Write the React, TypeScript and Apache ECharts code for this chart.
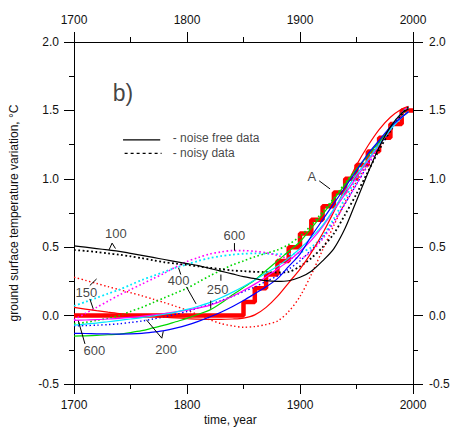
import React, { useEffect, useRef } from "react";
import * as echarts from "echarts";

// ---- data ----
const years = [
  1700, 1710, 1720, 1730, 1740, 1750, 1760, 1770, 1780, 1790, 1800, 1810, 1820, 1830, 1840, 1850,
  1860, 1870, 1880, 1890, 1900, 1910, 1920, 1930, 1940, 1950, 1960, 1970, 1980, 1990, 1996,
];

// noise free (solid)
const solid100 = [
  0.51, 0.5, 0.49, 0.48, 0.47, 0.455, 0.44, 0.425, 0.41, 0.395, 0.38, 0.365, 0.345, 0.325, 0.305, 0.285,
  0.27, 0.255, 0.25, 0.255, 0.28, 0.325, 0.4, 0.49, 0.64, 0.84, 1.04, 1.23, 1.38, 1.48, 1.51,
];
const solid150 = [
  0.06, 0.048, 0.036, 0.025, 0.015, 0.007, 0.0, -0.006, -0.012, -0.017, -0.022, -0.026, -0.028, -0.028, -0.025, -0.018,
  0.005, 0.06, 0.14, 0.24, 0.34, 0.46, 0.6, 0.76, 0.93, 1.1, 1.24, 1.36, 1.45, 1.51, 1.53,
];
const solid200 = [
  -0.13, -0.131, -0.133, -0.134, -0.135, -0.134, -0.13, -0.121, -0.11, -0.092, -0.07, -0.042, -0.01, 0.025, 0.065, 0.11,
  0.16, 0.21, 0.27, 0.36, 0.45, 0.58, 0.7, 0.82, 0.94, 1.06, 1.18, 1.28, 1.38, 1.45, 1.49,
];
const solid250 = [
  -0.15, -0.148, -0.145, -0.14, -0.135, -0.124, -0.11, -0.09, -0.07, -0.045, -0.02, 0.01, 0.04, 0.09, 0.15, 0.205,
  0.26, 0.33, 0.4, 0.47, 0.54, 0.64, 0.74, 0.85, 0.96, 1.07, 1.17, 1.27, 1.37, 1.45, 1.49,
];
const solid400 = [
  -0.07, -0.062, -0.055, -0.045, -0.035, -0.025, -0.015, -0.003, 0.01, 0.026, 0.045, 0.068, 0.095, 0.13, 0.17, 0.213,
  0.26, 0.31, 0.36, 0.42, 0.49, 0.57, 0.66, 0.78, 0.91, 1.03, 1.14, 1.25, 1.36, 1.45, 1.49,
];
const solid600 = [
  -0.035, -0.032, -0.03, -0.025, -0.02, -0.013, -0.005, 0.005, 0.015, 0.027, 0.04, 0.056, 0.075, 0.105, 0.14, 0.183,
  0.23, 0.283, 0.34, 0.4, 0.47, 0.55, 0.65, 0.77, 0.89, 1.01, 1.13, 1.25, 1.36, 1.45, 1.49,
];

// noisy (dotted)
const dotted100 = [
  0.48, 0.473, 0.465, 0.455, 0.445, 0.433, 0.42, 0.405, 0.39, 0.38, 0.37, 0.36, 0.35, 0.34, 0.33, 0.325,
  0.32, 0.318, 0.315, 0.32, 0.36, 0.42, 0.5, 0.6, 0.74, 0.89, 1.05, 1.21, 1.35, 1.47, 1.53,
];
const dotted150 = [
  0.28, 0.258, 0.235, 0.212, 0.19, 0.168, 0.145, 0.12, 0.095, 0.068, 0.04, 0.005, -0.03, -0.058, -0.075, -0.085,
  -0.08, -0.065, -0.04, 0.03, 0.14, 0.3, 0.48, 0.66, 0.83, 0.98, 1.12, 1.26, 1.37, 1.47, 1.52,
];
const dotted200 = [
  -0.075, -0.073, -0.07, -0.066, -0.06, -0.05, -0.04, -0.025, -0.01, 0.01, 0.03, 0.055, 0.08, 0.11, 0.14, 0.175,
  0.21, 0.25, 0.29, 0.34, 0.4, 0.48, 0.57, 0.69, 0.82, 0.96, 1.1, 1.23, 1.36, 1.47, 1.52,
];
const dotted250 = [
  -0.06, -0.05, -0.035, -0.02, 0.0, 0.03, 0.06, 0.095, 0.13, 0.165, 0.2, 0.245, 0.29, 0.33, 0.37, 0.4,
  0.43, 0.455, 0.48, 0.52, 0.58, 0.66, 0.76, 0.86, 0.97, 1.07, 1.17, 1.27, 1.37, 1.47, 1.52,
];
const dotted400 = [
  0.07, 0.1, 0.13, 0.16, 0.19, 0.225, 0.26, 0.29, 0.32, 0.35, 0.375, 0.4, 0.42, 0.435, 0.445, 0.452,
  0.455, 0.453, 0.45, 0.45, 0.46, 0.5, 0.58, 0.71, 0.86, 1.0, 1.13, 1.26, 1.38, 1.48, 1.53,
];
const dotted600 = [
  -0.03, 0.015, 0.06, 0.105, 0.15, 0.19, 0.23, 0.27, 0.31, 0.355, 0.395, 0.425, 0.45, 0.465, 0.475, 0.475,
  0.47, 0.46, 0.44, 0.42, 0.42, 0.47, 0.56, 0.68, 0.82, 0.96, 1.1, 1.24, 1.37, 1.48, 1.53,
];

// true history (step function "A")
const stepYears = [1700, 1850, 1860, 1870, 1880, 1890, 1900, 1910, 1920, 1930, 1940, 1950, 1960, 1970, 1980, 1990, 2000];
const stepValues = [0, 0.1, 0.2, 0.3, 0.4, 0.5, 0.6, 0.7, 0.8, 0.9, 1.0, 1.1, 1.2, 1.3, 1.4, 1.5, 1.5];

// annotation labels
const labelTexts = ["100", "150", "600", "200", "400", "250", "600", "A"];
const labelYears = [1737, 1711, 1718, 1781.5, 1792.5, 1827, 1842, 1910.5];
const labelValues = [0.6, 0.17, -0.255, -0.25, 0.256, 0.19, 0.585, 1.02];

// leader lines [year1, value1, year2, value2]
const leaderLines = [
  [1731, 0.48, 1733.7, 0.53],
  [1733.7, 0.53, 1736.7, 0.49],
  [1714, 0.22, 1720, 0.268],
  [1714, 0.122, 1717, 0.05],
  [1709.7, -0.207, 1703.8, -0.037],
  [1777.7, -0.165, 1764, -0.03],
  [1777.7, -0.165, 1779, -0.115],
  [1794.5, 0.3, 1792.5, 0.35],
  [1799.5, 0.21, 1808, 0.086],
  [1830, 0.255, 1830, 0.3],
  [1821, 0.11, 1821, 0.05],
  [1842, 0.53, 1842, 0.475],
  [1917, 0.985, 1926.6, 0.926],
];

const legendTexts = ["- noise free data", "- noisy data"];

const FONT = "'Liberation Sans', Arial, sans-serif";
const TEXT = "#111111";

const colors = {
  c100: "#000000",
  c150: "#ff0000",
  c200: "#0000ff",
  c250: "#00d800",
  c400: "#00e8ff",
  c600: "#ff00ff",
};

function toData(vals: number[]) {
  return years.map((y, i) => [y, vals[i]]);
}

function solidSeries(vals: number[], color: string) {
  return {
    type: "line",
    data: toData(vals),
    smooth: 0.3,
    symbol: "none",
    silent: true,
    lineStyle: { color, width: 1.2, type: "solid" },
    z: 3,
  };
}

function dottedSeries(vals: number[], color: string, w = 1.5) {
  return {
    type: "line",
    data: toData(vals),
    smooth: 0.3,
    symbol: "none",
    silent: true,
    lineStyle: { color, width: w, type: [w, 2.5] },
    z: 3,
  };
}

function axisCommon() {
  return {
    axisLine: { show: true, onZero: false, lineStyle: { color: "#000", width: 1 } },
    axisTick: { show: true, inside: false, length: 10, lineStyle: { color: "#000", width: 1 } },
    minorTick: { show: true, splitNumber: 2, length: 5, lineStyle: { color: "#000", width: 1 } },
    splitLine: { show: false },
    minorSplitLine: { show: false },
  };
}

export default function App() {
  const ref = useRef<HTMLDivElement>(null);

  useEffect(() => {
    if (!ref.current) return;
    const chart = echarts.init(ref.current, undefined, { renderer: "svg" });

    const xBase = {
      type: "value",
      min: 1700,
      max: 2000,
      interval: 100,
      ...axisCommon(),
    };
    const yBase = {
      type: "value",
      min: -0.5,
      max: 2,
      interval: 0.5,
      ...axisCommon(),
    };
    const labelStyle = { fontSize: 12, color: TEXT, fontFamily: FONT };
    const yearFmt = (v: number) => String(v);
    const valFmt = (v: number) => v.toFixed(1);

    const series: any[] = [];

    // step function first (underneath)
    series.push({
      type: "line",
      data: stepYears.map((y, i) => [y, stepValues[i]]),
      step: "end",
      symbol: "none",
      silent: true,
      lineStyle: { color: "#ff0000", width: 4.5 },
      z: 2,
    });

    series.push(dottedSeries(dotted150, colors.c150, 1.4));
    series.push(dottedSeries(dotted200, colors.c200, 1.4));
    series.push(dottedSeries(dotted250, colors.c250, 1.6));
    series.push(dottedSeries(dotted400, colors.c400, 1.8));
    series.push(dottedSeries(dotted600, colors.c600, 1.6));
    series.push(dottedSeries(dotted100, colors.c100, 1.8));

    series.push(solidSeries(solid150, colors.c150));
    series.push(solidSeries(solid250, colors.c250));
    series.push(solidSeries(solid600, colors.c600));
    series.push(solidSeries(solid400, colors.c400));
    series.push(solidSeries(solid200, colors.c200));
    series.push(solidSeries(solid100, colors.c100));

    // leader lines
    leaderLines.forEach((s) => {
      series.push({
        type: "line",
        data: [
          [s[0], s[1]],
          [s[2], s[3]],
        ],
        symbol: "none",
        silent: true,
        lineStyle: { color: "#000", width: 1 },
        z: 5,
      });
    });

    // legend sample lines
    series.push({
      type: "line",
      data: [
        [1743.4, 1.284],
        [1776.3, 1.284],
      ],
      symbol: "none",
      silent: true,
      lineStyle: { color: "#000", width: 1.3 },
      z: 5,
    });
    series.push({
      type: "line",
      data: [
        [1744.8, 1.186],
        [1777.5, 1.186],
      ],
      symbol: "none",
      silent: true,
      lineStyle: { color: "#000", width: 1.2, type: [3, 3] },
      z: 5,
    });

    // annotation texts
    series.push({
      type: "scatter",
      symbolSize: 0,
      silent: true,
      z: 6,
      data: labelTexts.map((t, i) => ({
        value: [labelYears[i], labelValues[i]],
        label: {
          show: true,
          position: "inside",
          formatter: t,
          fontSize: 13,
          color: TEXT,
          fontFamily: FONT,
        },
      })),
    });

    // legend texts + panel label
    series.push({
      type: "scatter",
      symbolSize: 0,
      silent: true,
      z: 6,
      data: [
        {
          value: [1787.4, 1.296],
          label: { show: true, position: "right", distance: 0, formatter: legendTexts[0], fontSize: 12, color: TEXT, fontFamily: FONT },
        },
        {
          value: [1787.4, 1.192],
          label: { show: true, position: "right", distance: 0, formatter: legendTexts[1], fontSize: 12, color: TEXT, fontFamily: FONT },
        },
        {
          value: [1743.4, 1.63],
          label: { show: true, position: "inside", formatter: "b)", fontSize: 23, color: TEXT, fontFamily: FONT },
        },
      ],
    });

    chart.setOption({
      animation: false,
      backgroundColor: "#ffffff",
      grid: { left: 72, right: 41, top: 42, bottom: 47, containLabel: false },
      xAxis: [
        { ...xBase, position: "bottom", axisLabel: { ...labelStyle, margin: 15, formatter: yearFmt } },
        { ...xBase, position: "top", axisLabel: { ...labelStyle, margin: 16, formatter: yearFmt } },
      ],
      yAxis: [
        {
          ...yBase,
          position: "left",
          axisLabel: { ...labelStyle, margin: 15, formatter: valFmt },
          name: "ground surface temperature variation, °C",
          nameLocation: "middle",
          nameGap: 54,
          nameTextStyle: { fontSize: 12, color: TEXT, fontFamily: FONT },
        },
        {
          ...yBase,
          position: "right",
          axisLabel: { ...labelStyle, margin: 16, formatter: valFmt },
        },
      ],
      graphic: [
        {
          type: "text",
          left: 204,
          top: 414,
          style: { text: "time, year", fontSize: 12, fill: TEXT, fontFamily: FONT },
        },
      ],
      series,
    });

    return () => chart.dispose();
  }, []);

  return (
    <div
      ref={ref}
      style={{ position: "fixed", left: 0, top: 0, width: 454, height: 431, background: "#fff" }}
    />
  );
}
